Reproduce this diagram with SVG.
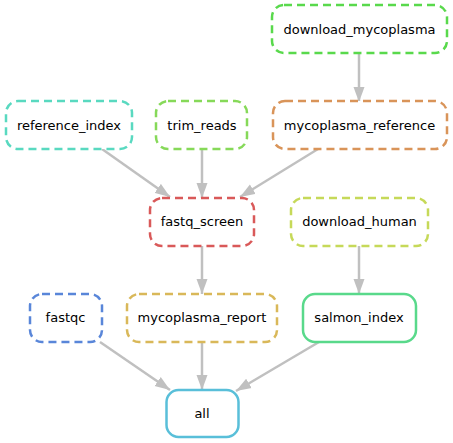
<svg xmlns="http://www.w3.org/2000/svg" width="453" height="443" viewBox="0 0 453 443">
<style>
.n rect{fill:#fff;stroke-width:2.5}
.d rect{stroke-dasharray:8,5}
.n text{font-family:"DejaVu Sans",sans-serif;font-size:13px;fill:#000;text-anchor:middle;dominant-baseline:central}
.e line{stroke:#c0c0c0;stroke-width:2.5;marker-end:url(#ah)}
</style>
<defs>
<marker id="ah" markerUnits="userSpaceOnUse" markerWidth="15" markerHeight="12" refX="15" refY="6" orient="auto">
<path d="M0,0.5 L15,6 L0,11.5 z" fill="#c0c0c0"/>
</marker>
</defs>
<rect width="453" height="443" fill="#fff"/>
<g id="edges" class="e">
<line x1="359" y1="53" x2="359" y2="102"/>
<line x1="102" y1="149" x2="170" y2="197"/>
<line x1="202" y1="149" x2="202" y2="198"/>
<line x1="318" y1="149" x2="240" y2="197"/>
<line x1="202" y1="246" x2="202" y2="294"/>
<line x1="359" y1="246" x2="359" y2="294"/>
<line x1="100" y1="342" x2="170" y2="390"/>
<line x1="202" y1="342" x2="202" y2="390"/>
<line x1="319" y1="342" x2="236" y2="391"/>
</g>
<g id="download_mycoplasma" class="n d"><rect x="272" y="5" width="175" height="48" rx="12" stroke="#59d94c"/><text x="359.5" y="29">download_mycoplasma</text></g>
<g id="reference_index" class="n d"><rect x="6" y="101" width="126" height="48" rx="12" stroke="#59d9c0"/><text x="69" y="125">reference_index</text></g>
<g id="trim_reads" class="n d"><rect x="156" y="101" width="91" height="48" rx="12" stroke="#86d959"/><text x="202" y="125">trim_reads</text></g>
<g id="mycoplasma_reference" class="n d"><rect x="273" y="101" width="174" height="48" rx="12" stroke="#d99459"/><text x="359.5" y="125">mycoplasma_reference</text></g>
<g id="fastq_screen" class="n d"><rect x="150" y="198" width="104" height="48" rx="12" stroke="#d95959"/><text x="202" y="221">fastq_screen</text></g>
<g id="download_human" class="n d"><rect x="291" y="198" width="137" height="48" rx="12" stroke="#c6d959"/><text x="359.5" y="221">download_human</text></g>
<g id="fastqc" class="n d"><rect x="30" y="294" width="72" height="48" rx="12" stroke="#5986d9"/><text x="65.5" y="317">fastqc</text></g>
<g id="mycoplasma_report" class="n d"><rect x="127" y="294" width="150" height="48" rx="12" stroke="#d9b859"/><text x="202" y="317">mycoplasma_report</text></g>
<g id="salmon_index" class="n"><rect x="303" y="294" width="113" height="48" rx="12" stroke="#59d98b"/><text x="359" y="317">salmon_index</text></g>
<g id="all" class="n"><rect x="166.5" y="390" width="72" height="47" rx="12" stroke="#59bfd9"/><text x="202" y="413">all</text></g>
</svg>
